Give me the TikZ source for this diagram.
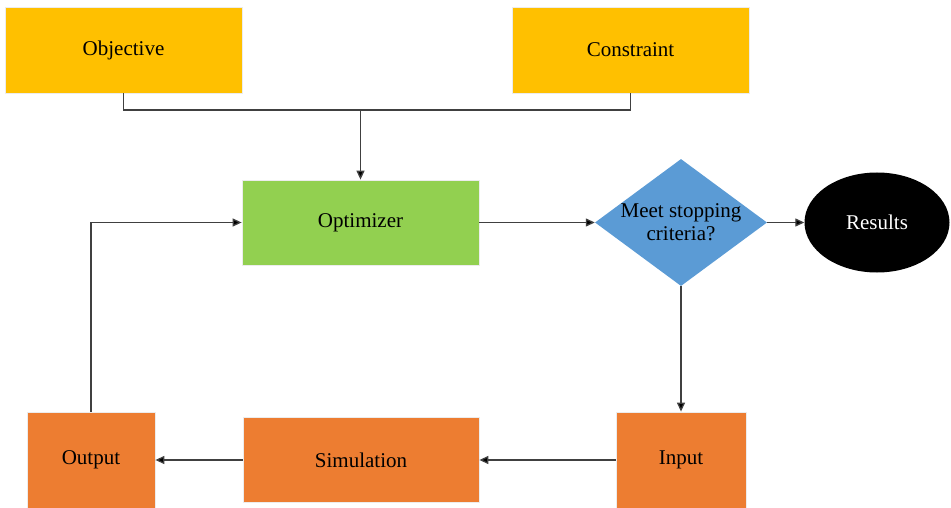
\documentclass[tikz,border=0pt]{standalone}
\usepackage{fontspec}
\setmainfont{Liberation Serif}
\usetikzlibrary{shapes.geometric,arrows.meta}
\definecolor{boxyellow}{HTML}{FFC000}
\definecolor{boxgreen}{HTML}{92D050}
\definecolor{boxblue}{HTML}{5B9BD5}
\definecolor{boxorange}{HTML}{ED7D31}
\begin{document}
\begin{tikzpicture}[x=1pt, y=-1pt,
		block/.style={rectangle, draw=gray!15, line width=0.8pt, inner sep=0pt, font=\fontsize{21}{24}\selectfont},
		goal/.style={block, fill=boxyellow, minimum width=237pt, minimum height=86pt},
		proc/.style={block, fill=boxorange},
		line/.style={draw=black!75, line width=1.3pt},
		arrow/.style={line, -{Triangle[length=9pt, width=8pt, fill=black]}}]
			\useasboundingbox (0,0) rectangle (951,508);
			% top row
			\node[goal] (objective) at (123.5,50) {Objective};
			\node[goal] (constraint) at (630.5,50) {Constraint};
			% middle row
			\node[block, fill=boxgreen, minimum width=237pt, minimum height=85pt] (optimizer) at (360.5,222.5) {Optimizer};
			\node[diamond, fill=boxblue, inner sep=0pt, minimum width=172pt, minimum height=127pt] (stop) at (681,222.5) {};
			\node[font=\fontsize{21}{23}\selectfont, align=center] (stoptext) at (stop.center) {Meet stopping\\criteria?};
			\node[ellipse, fill=black, text=white, inner sep=0pt, minimum width=145pt, minimum height=100pt, font=\fontsize{21}{24}\selectfont] (results) at (877,222.5) {Results};
			% bottom row
			\node[proc, minimum width=130pt, minimum height=96pt] (input) at (681,460) {Input};
			\node[proc, minimum width=236pt, minimum height=85pt] (simulation) at (361,460) {Simulation};
			\node[proc, minimum width=128pt, minimum height=96pt] (output) at (91,460) {Output};
			% connectors
			\coordinate (join) at (optimizer.north |- 0,110);
			\draw[line] (objective.south) |- (join) -| (constraint.south);
			\draw[arrow] (join) -- (optimizer.north);
			\draw[arrow] (optimizer.east) -- (stop.west);
			\draw[arrow] (stop.east) -- (results.west);
			\draw[arrow] (stop.south) -- (input.north);
			\draw[arrow] (input.west) -- (simulation.east);
			\draw[arrow] (simulation.west) -- (output.east);
			\draw[arrow] (output.north) |- (optimizer.west);
		\end{tikzpicture}
\end{document}
